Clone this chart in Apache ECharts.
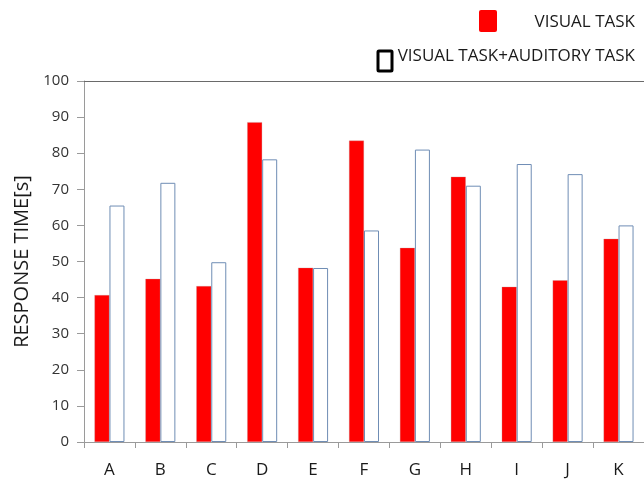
<!DOCTYPE html>
<html>
<head>
<meta charset="utf-8">
<title>Response time</title>
<script src="https://cdn.jsdelivr.net/npm/echarts@6/dist/echarts.min.js"></script>
<style>
  html, body { margin: 0; padding: 0; background: #ffffff; }
  #chart { width: 644px; height: 485px; }
</style>
</head>
<body>
<div id="chart"></div>
<script>
// Response times per subject, seconds
const categories = ['A', 'B', 'C', 'D', 'E', 'F', 'G', 'H', 'I', 'J', 'K'];
const visualTask = [40.7, 45.2, 43.2, 88.6, 48.3, 83.5, 53.8, 73.5, 43.0, 44.8, 56.3];
const visualAuditoryTask = [65.5, 71.8, 49.8, 78.3, 48.2, 58.6, 81.0, 71.0, 77.0, 74.2, 60.0];
const yTicks = [0, 10, 20, 30, 40, 50, 60, 70, 80, 90, 100];
const seriesNames = ['VISUAL TASK', 'VISUAL TASK+AUDITORY TASK'];

const FONT = '"Open Sans", "DejaVu Sans", sans-serif';
const chart = echarts.init(document.getElementById('chart'), null, { renderer: 'canvas' });

chart.setOption({
  animation: false,
  backgroundColor: '#ffffff',
  grid: { left: 84, top: 81, width: 568, height: 361, containLabel: false },
  xAxis: [
    {
      type: 'category',
      data: categories,
      axisLine: { show: true, lineStyle: { color: '#9a9a9a', width: 1 } },
      axisTick: { show: true, alignWithLabel: false, length: 6, lineStyle: { color: '#9a9a9a' } },
      axisLabel: { color: '#1a1a1a', fontSize: 17, fontFamily: FONT, margin: 20 }
    },
    {
      // thin frame line along the top of the plot
      type: 'category',
      position: 'top',
      data: categories,
      axisLine: { show: true, lineStyle: { color: '#6a6a6a', width: 1 } },
      axisTick: { show: false },
      axisLabel: { show: false }
    }
  ],
  yAxis: {
    type: 'value',
    min: yTicks[0],
    max: yTicks[yTicks.length - 1],
    interval: yTicks[1] - yTicks[0],
    name: 'RESPONSE TIME[s]',
    nameLocation: 'middle',
    nameGap: 52,
    nameRotate: 90,
    nameTextStyle: { color: '#1a1a1a', fontSize: 20, fontFamily: FONT },
    axisLine: { show: true, lineStyle: { color: '#9a9a9a', width: 1 } },
    axisTick: { show: true, length: 7, lineStyle: { color: '#9a9a9a' } },
    axisLabel: { color: '#333333', fontSize: 15, fontFamily: FONT, margin: 15 },
    splitLine: { show: false }
  },
  series: [
    {
      name: seriesNames[0],
      type: 'bar',
      data: visualTask,
      barWidth: 15,
      barGap: '0%',
      itemStyle: { color: '#ff0000', borderColor: 'rgba(190,150,150,0.6)', borderWidth: 0.5 }
    },
    {
      name: seriesNames[1],
      type: 'bar',
      data: visualAuditoryTask,
      barWidth: 15,
      barGap: '0%',
      itemStyle: { color: '#ffffff', borderColor: '#6f8db5', borderWidth: 1 }
    }
  ],
  graphic: [
    { type: 'rect', left: 479, top: 10, shape: { width: 18, height: 22, r: 2 },
      style: { fill: '#ff0000' } },
    { type: 'text', right: 9, top: 14,
      style: { text: seriesNames[0], fill: '#1a1a1a', fontSize: 17, fontFamily: FONT } },
    { type: 'rect', left: 376.5, top: 49.5, shape: { width: 14, height: 20, r: 1 },
      style: { fill: '#ffffff', stroke: '#000000', lineWidth: 3 } },
    { type: 'text', right: 9, top: 48,
      style: { text: seriesNames[1], fill: '#1a1a1a', fontSize: 17, fontFamily: FONT } }
  ]
});
</script>
</body>
</html>
